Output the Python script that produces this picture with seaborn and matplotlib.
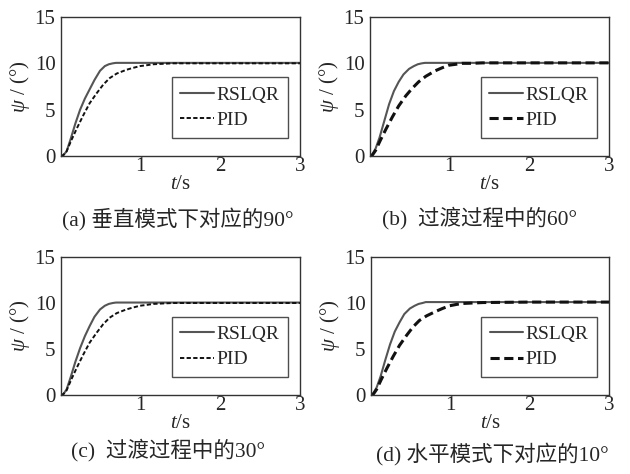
import numpy as np
import pandas as pd
import seaborn as sns
import matplotlib.pyplot as plt

# values (t in s, psi in degrees)
t_rslqr = [0, 0.03, 0.07, 0.12, 0.18, 0.24, 0.30, 0.36, 0.42, 0.49, 0.55, 0.60, 0.65, 0.69, 1.0, 2.0, 3.0]
psi_rslqr_a = [0, 0.1, 0.5, 1.8, 3.5, 5.0, 6.2, 7.2, 8.2, 9.2, 9.7, 9.9, 10.0, 10.05, 10.05, 10.05, 10.05]
psi_rslqr_b = [0, 0.2, 0.8, 2.0, 3.8, 5.6, 7.0, 8.0, 8.8, 9.4, 9.7, 9.9, 10.0, 10.05, 10.05, 10.05, 10.05]
psi_rslqr_c = [0, 0.1, 0.6, 1.9, 3.6, 5.1, 6.4, 7.5, 8.5, 9.3, 9.7, 9.9, 10.0, 10.05, 10.05, 10.05, 10.05]
psi_rslqr_d = [0, 0.2, 0.8, 2.0, 3.8, 5.5, 6.9, 7.9, 8.8, 9.4, 9.7, 9.9, 10.0, 10.1, 10.1, 10.1, 10.1]

t_pid = [0, 0.03, 0.07, 0.13, 0.20, 0.28, 0.36, 0.45, 0.53, 0.61, 0.70, 0.82, 0.90, 0.99, 1.08, 1.16, 1.28, 1.41, 2.0, 3.0]
psi_pid_a = [0, 0.1, 0.5, 1.7, 3.0, 4.4, 5.7, 6.8, 7.7, 8.4, 8.9, 9.3, 9.5, 9.7, 9.8, 9.9, 9.95, 10.0, 10.0, 10.0]
psi_pid_b = [0, 0.1, 0.6, 1.7, 2.9, 4.2, 5.4, 6.5, 7.3, 8.0, 8.6, 9.2, 9.5, 9.8, 9.9, 10.0, 10.0, 10.05, 10.05, 10.05]
psi_pid_c = [0, 0.1, 0.5, 1.7, 3.0, 4.4, 5.7, 6.8, 7.7, 8.4, 8.9, 9.3, 9.5, 9.7, 9.8, 9.9, 9.95, 10.0, 10.0, 10.0]
psi_pid_d = [0, 0.1, 0.6, 1.7, 2.9, 4.2, 5.4, 6.5, 7.4, 8.1, 8.6, 9.1, 9.4, 9.7, 9.85, 9.95, 10.0, 10.05, 10.1, 10.1]

captions = ["(a) 垂直模式下对应的90°", "(b)  过渡过程中的60°",
            "(c)  过渡过程中的30°", "(d) 水平模式下对应的10°"]
series_names = ["RSLQR", "PID"]

sns.set_theme(style="white")
plt.rcParams['font.family'] = ['Liberation Serif', 'Noto Sans CJK SC']
plt.rcParams['mathtext.fontset'] = 'custom'
plt.rcParams['mathtext.it'] = 'Liberation Serif:italic'
plt.rcParams['mathtext.rm'] = 'Liberation Serif'

fig = plt.figure(figsize=(6.3, 4.74), dpi=100)

# axes boxes in pixels: left, top, right, bottom
boxes = [(61, 17, 300, 156), (370, 17, 609, 156),
         (61, 257, 300, 395), (371, 257, 609, 395)]
caption_xy = [(178, 220), (480, 218), (168, 450), (492, 455)]

rslqr_all = [psi_rslqr_a, psi_rslqr_b, psi_rslqr_c, psi_rslqr_d]
pid_all = [psi_pid_a, psi_pid_b, psi_pid_c, psi_pid_d]
thick_pid = [False, True, False, True]

for i in range(4):
    l, t, r, b = boxes[i]
    ax = fig.add_axes([l / 630, 1 - b / 474, (r - l) / 630, (b - t) / 474])

    df1 = pd.DataFrame({"t": t_rslqr, "psi": rslqr_all[i]})
    df2 = pd.DataFrame({"t": t_pid, "psi": pid_all[i]})

    sns.lineplot(data=df1, x="t", y="psi", ax=ax, color="#555555",
                 linewidth=1.5, label=series_names[0])
    if thick_pid[i]:
        sns.lineplot(data=df2, x="t", y="psi", ax=ax, color="#111111",
                     linewidth=2.2, label=series_names[1])
        ax.lines[-1].set_dashes((3, 1.5))
    else:
        sns.lineplot(data=df2, x="t", y="psi", ax=ax, color="#111111",
                     linewidth=1.4, label=series_names[1])
        ax.lines[-1].set_dashes((2.2, 1.2))

    ax.set_xlim(0, 3)
    ax.set_ylim(0, 15)
    ax.set_xticks([1, 2, 3])
    ax.set_yticks([0, 5, 10, 15])
    ax.tick_params(axis='x', direction='in', length=3, width=1, color="#333333",
                   labelsize=15, pad=1)
    ax.tick_params(axis='y', length=0, labelsize=15, pad=4)
    for s in ax.spines.values():
        s.set_color("#333333")
        s.set_linewidth(1.0)

    ax.set_xlabel(r"$t$/s", fontsize=15, labelpad=-1)
    ax.set_ylabel(r"$\psi$ / (°)", fontsize=15, labelpad=2)

    leg = ax.legend(loc="lower right", bbox_to_anchor=(0.95, 0.13), fontsize=14,
                    frameon=True, fancybox=False, handlelength=1.7,
                    handletextpad=0.15, borderpad=0.45, labelspacing=0.4,
                    borderaxespad=0)
    leg.get_frame().set_edgecolor("#222222")
    leg.get_frame().set_linewidth(1.0)

    cx, cy = caption_xy[i]
    fig.text(cx / 630, 1 - cy / 474, captions[i], ha="center", va="center",
             fontsize=15.5)

plt.savefig("out.png", dpi=100)
